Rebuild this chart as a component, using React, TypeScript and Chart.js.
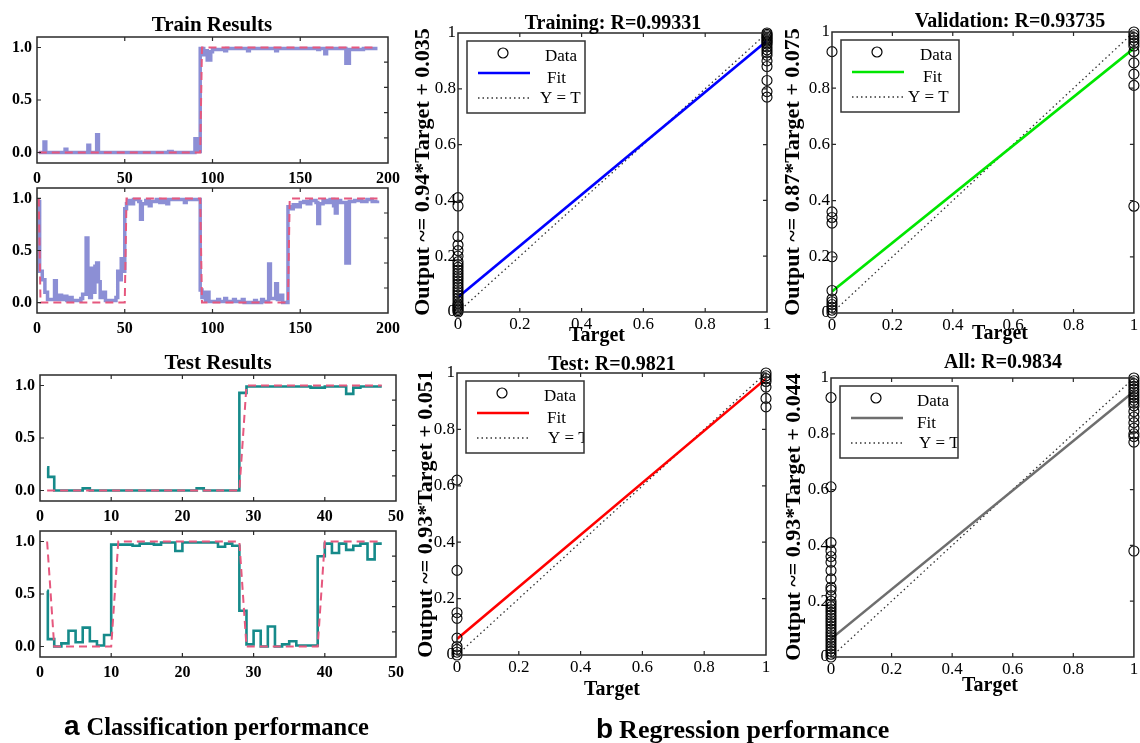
import React, { useEffect, useRef } from "react";
import { Chart, registerables } from "chart.js";

Chart.register(...registerables);

const W = 1140;
const H = 743;
const SERIF = "'Liberation Serif', 'Times New Roman', serif";
const SANS = "'Liberation Sans', Arial, sans-serif";
const AXIS = "#2a2a2a";
const PINK = "#e6587e";
const PERI = "#8c8fd5";
const TEAL = "#168a8a";

// ---------- Classification performance (sample index vs value) ----------
const trainTicksX = [0, 50, 100, 150, 200];
const testTicksX = [0, 10, 20, 30, 40, 50];
const clsTicksY = [0, 0.5, 1.0];
const clsRightTicks = [0.14, 0.38, 0.62, 0.86];

const trainTopOutX = [1, 4, 5, 16, 17, 29, 30, 34, 35, 75, 77, 90, 91, 93, 95, 96, 97, 99, 100, 107, 108, 120, 121, 136, 137, 160, 161, 164, 165, 176, 178, 186, 194];
const trainTopOutY = [0.0, 0.10, 0.0, 0.03, 0.0, 0.07, 0.0, 0.17, 0.0, 0.01, 0.0, 0.13, 0.01, 0.99, 0.93, 0.97, 0.88, 0.96, 0.98, 0.97, 0.99, 0.97, 0.99, 0.97, 0.99, 0.98, 0.99, 0.94, 0.99, 0.85, 0.98, 0.99, 0.99];
const trainTopTgtX = [1, 93, 94, 194];
const trainTopTgtY = [0, 0, 1, 1];

const trainBotOutX = [1, 1.5, 3, 4.5, 6, 10, 11, 13, 14, 16, 17, 19, 20, 25, 26, 28, 29, 30, 31, 32, 33, 34, 35, 36, 38, 39, 45, 46, 47, 48, 49, 50, 51, 52, 53, 55, 58, 59, 60, 62, 64, 65, 68, 70, 72, 74, 75, 84, 85, 93, 94, 95, 96, 97, 98, 103, 104, 107, 108, 112, 113, 117, 118, 124, 125, 128, 129, 132, 133, 136, 137, 138, 140, 143, 144, 146, 148, 150, 152, 154, 156, 159, 160, 161, 163, 165, 167, 169, 170, 171, 173, 176, 178, 181, 185, 188, 191, 194];
const trainBotOutY = [0.97, 0.30, 0.22, 0.10, 0.03, 0.21, 0.03, 0.07, 0.03, 0.06, 0.02, 0.05, 0.02, 0.04, 0.08, 0.62, 0.10, 0.05, 0.33, 0.10, 0.35, 0.38, 0.20, 0.05, 0.10, 0.02, 0.05, 0.30, 0.22, 0.42, 0.30, 0.90, 0.95, 0.98, 0.95, 0.99, 0.97, 0.80, 0.95, 0.98, 0.93, 0.97, 0.99, 0.96, 0.98, 0.95, 0.99, 0.96, 0.99, 0.12, 0.05, 0.10, 0.02, 0.10, 0.01, 0.03, 0.01, 0.04, 0.01, 0.03, 0.01, 0.03, 0.00, 0.02, 0.00, 0.03, 0.01, 0.37, 0.04, 0.18, 0.03, 0.07, 0.00, 0.92, 0.90, 0.94, 0.92, 0.96, 0.97, 0.95, 0.98, 0.96, 0.76, 0.95, 0.98, 0.96, 0.99, 0.93, 0.86, 0.98, 0.96, 0.38, 0.97, 0.98, 0.97, 0.99, 0.97, 0.98];
const trainBotTgtX = [1, 2, 50, 51, 93, 94, 143, 144, 194];
const trainBotTgtY = [1, 0, 0, 1, 1, 0, 0, 1, 1];

const testTopOutX = [1, 1.15, 2, 6, 7, 22, 23, 28, 29, 38, 40, 43, 44, 45, 48];
const testTopOutY = [0.22, 0.13, 0.0, 0.02, 0.0, 0.02, 0.0, 0.93, 0.99, 0.98, 0.99, 0.92, 0.98, 0.99, 0.99];
const testTopTgtX = [1, 28, 29, 48];
const testTopTgtY = [0, 0, 1, 1];

const testBotOutX = [1, 1.1, 2, 3, 4, 5, 6, 7, 8, 9, 10, 11, 13, 14, 16, 17, 19, 20, 25, 26, 27, 28, 29, 30, 31, 32, 33, 34, 35, 36, 39, 40, 41, 42, 43, 44, 45, 46, 47, 48];
const testBotOutY = [0.53, 0.07, 0.0, 0.03, 0.15, 0.04, 0.18, 0.05, 0.01, 0.11, 0.97, 0.97, 0.96, 0.98, 0.97, 0.99, 0.91, 0.99, 0.95, 0.98, 0.96, 0.34, 0.02, 0.15, 0.0, 0.19, 0.0, 0.02, 0.05, 0.01, 0.86, 0.98, 0.89, 0.98, 0.92, 0.96, 0.98, 0.83, 0.98, 0.98];
const testBotTgtX = [1, 2, 10, 11, 28, 29, 39, 40, 48];
const testBotTgtY = [1, 0, 0, 1, 1, 0, 0, 1, 1];

// ---------- Regression performance ----------
const regTicks = [0, 0.2, 0.4, 0.6, 0.8, 1];
const regInnerTicks = [0.2, 0.4, 0.6, 0.8];
const fitX = [0, 1];
const identityY = [0, 1];

const trainRegLow = [0.0, 0.005, 0.01, 0.015, 0.02, 0.025, 0.03, 0.04, 0.05, 0.06, 0.07, 0.08, 0.09, 0.10, 0.11, 0.12, 0.13, 0.14, 0.15, 0.16, 0.17, 0.18, 0.20, 0.22, 0.24, 0.27, 0.38, 0.41];
const trainRegHigh = [0.77, 0.79, 0.83, 0.88, 0.90, 0.92, 0.93, 0.94, 0.95, 0.96, 0.965, 0.97, 0.975, 0.98, 0.985, 0.99, 0.995, 1.0];
const trainFitY = [0.053, 0.972];

const valRegLow = [0.0, 0.01, 0.02, 0.03, 0.04, 0.05, 0.08, 0.20, 0.32, 0.34, 0.36, 0.93];
const valRegHigh = [0.38, 0.81, 0.85, 0.89, 0.93, 0.95, 0.96, 0.97, 0.98, 0.99, 1.0];
const valFitY = [0.077, 0.942];

const testRegLow = [0.0, 0.01, 0.02, 0.03, 0.06, 0.13, 0.15, 0.30, 0.62];
const testRegHigh = [0.88, 0.91, 0.95, 0.97, 0.98, 0.99, 1.0];
const testFitY = [0.057, 0.98];

const allRegLow = [0.00, 0.01, 0.02, 0.03, 0.04, 0.05, 0.06, 0.07, 0.08, 0.09, 0.10, 0.11, 0.12, 0.13, 0.14, 0.15, 0.16, 0.17, 0.18, 0.19, 0.20, 0.22, 0.24, 0.25, 0.28, 0.31, 0.34, 0.36, 0.38, 0.41, 0.61, 0.93];
const allRegHigh = [0.38, 0.77, 0.79, 0.80, 0.82, 0.84, 0.86, 0.88, 0.90, 0.91, 0.92, 0.93, 0.94, 0.95, 0.96, 0.97, 0.98, 0.99, 1.0];
const allFitY = [0.065, 0.952];

type Rect = { l: number; t: number; r: number; b: number };

const zip = (xs: number[], ys: number[]) => xs.map((x, i) => ({ x, y: ys[i] }));

const boxPlugin = {
  id: "matBox",
  afterDatasetsDraw(chart: any, _a: any, o: any) {
    const { ctx, chartArea: a, scales } = chart;
    const xs = scales.x;
    const ys = scales.y;
    ctx.save();
    ctx.strokeStyle = AXIS;
    ctx.lineWidth = 1.5;
    ctx.strokeRect(a.left, a.top, a.right - a.left, a.bottom - a.top);
    ctx.lineWidth = 1.2;
    const L = o.len || 4;
    ctx.beginPath();
    for (const v of o.xMarks) {
      const p = xs.getPixelForValue(v);
      ctx.moveTo(p, a.bottom);
      ctx.lineTo(p, a.bottom - L);
      ctx.moveTo(p, a.top);
      ctx.lineTo(p, a.top + L);
    }
    for (const v of o.yMarks) {
      const p = ys.getPixelForValue(v);
      ctx.moveTo(a.left, p);
      ctx.lineTo(a.left + L, p);
    }
    for (const v of o.rMarks) {
      const p = ys.getPixelForValue(v);
      ctx.moveTo(a.right, p);
      ctx.lineTo(a.right - L, p);
    }
    ctx.stroke();
    ctx.restore();
  },
};

const legendPlugin = {
  id: "regLegend",
  afterDatasetsDraw(chart: any, _a: any, o: any) {
    if (!o || !o.color) return;
    const { ctx, chartArea: a } = chart;
    const x = a.left + 9;
    const y = a.top + 8;
    const w = 118;
    const h = 72;
    ctx.save();
    ctx.fillStyle = "#fff";
    ctx.fillRect(x, y, w, h);
    ctx.beginPath();
    ctx.rect(x, y, w, h);
    ctx.clip();
    ctx.strokeStyle = "#000";
    ctx.lineWidth = 1.2;
    ctx.beginPath();
    ctx.arc(x + 36, y + 12, 5, 0, Math.PI * 2);
    ctx.stroke();
    ctx.strokeStyle = o.color;
    ctx.lineWidth = 2.5;
    ctx.beginPath();
    ctx.moveTo(x + 11, y + 32);
    ctx.lineTo(x + 63, y + 32);
    ctx.stroke();
    ctx.strokeStyle = "#333";
    ctx.lineWidth = 1.3;
    ctx.setLineDash([1.5, 3]);
    ctx.beginPath();
    ctx.moveTo(x + 11, y + 57);
    ctx.lineTo(x + 63, y + 57);
    ctx.stroke();
    ctx.setLineDash([]);
    ctx.fillStyle = "#000";
    ctx.font = `17px ${SERIF}`;
    ctx.textBaseline = "middle";
    ctx.fillText("Data", x + o.dataX, y + 16);
    ctx.fillText("Fit", x + o.fitX, y + 38);
    ctx.fillText("Y = T", x + o.ytX, y + 58);
    ctx.restore();
    ctx.save();
    ctx.strokeStyle = "#333";
    ctx.lineWidth = 1.5;
    ctx.strokeRect(x, y, w, h);
    ctx.restore();
  },
};

type SeriesPanel = {
  rect: Rect;
  xMax: number;
  xTicks: number[];
  outX: number[];
  outY: number[];
  tgtX: number[];
  tgtY: number[];
  color: string;
  lw: number;
};

function seriesConfig(p: SeriesPanel): any {
  const yW = 30;
  const xH = 30;
  const tickFont = { family: SERIF, size: 16, weight: "bold" as const };
  return {
    type: "line",
    data: {
      datasets: [
        {
          data: zip(p.tgtX, p.tgtY),
          borderColor: PINK,
          borderWidth: 2,
          borderDash: [8, 5],
          pointRadius: 0,
          fill: false,
          tension: 0,
          order: 0,
        },
        {
          data: zip(p.outX, p.outY),
          borderColor: p.color,
          borderWidth: p.lw,
          stepped: true,
          pointRadius: 0,
          fill: false,
          order: 1,
        },
      ],
    },
    options: {
      responsive: false,
      animation: false,
      devicePixelRatio: 1,
      events: [],
      layout: { padding: { left: p.rect.l - yW, top: p.rect.t, right: W - p.rect.r, bottom: H - p.rect.b - xH } },
      plugins: {
        legend: { display: false },
        tooltip: { enabled: false },
        matBox: { xMarks: p.xTicks.slice(1, -1), yMarks: clsTicksY, rMarks: clsRightTicks, len: 4 },
      },
      scales: {
        x: {
          type: "linear",
          min: 0,
          max: p.xMax,
          grid: { display: false, drawTicks: false },
          border: { display: false },
          afterBuildTicks: (s: any) => {
            s.ticks = p.xTicks.map((v) => ({ value: v }));
          },
          afterFit: (s: any) => {
            s.height = xH;
            s.paddingLeft = 0;
            s.paddingRight = 0;
          },
          ticks: { font: tickFont, color: "#000", padding: 6, maxRotation: 0, autoSkip: false, callback: (v: any) => String(v) },
        },
        y: {
          type: "linear",
          min: -0.1,
          max: 1.1,
          grid: { display: false, drawTicks: false },
          border: { display: false },
          afterBuildTicks: (s: any) => {
            s.ticks = clsTicksY.map((v) => ({ value: v }));
          },
          afterFit: (s: any) => {
            s.width = yW;
            s.paddingTop = 0;
            s.paddingBottom = 0;
          },
          ticks: { font: tickFont, color: "#000", padding: 5, autoSkip: false, callback: (v: any) => Number(v).toFixed(1) },
        },
      },
    },
    plugins: [boxPlugin],
  };
}

type RegPanel = {
  rect: Rect;
  low: number[];
  high: number[];
  fitY: number[];
  color: string;
  dataX: number;
  fitTextX: number;
  ytX: number;
};

function regConfig(p: RegPanel): any {
  const yW = 40;
  const xH = 30;
  const tickFont = { family: SERIF, size: 17 };
  const fmt = (v: any) => String(Number(Number(v).toFixed(1)));
  const points = [...p.low.map((y) => ({ x: 0, y })), ...p.high.map((y) => ({ x: 1, y }))];
  return {
    type: "scatter",
    data: {
      datasets: [
        {
          data: points,
          showLine: false,
          pointRadius: 5,
          pointBorderWidth: 1.1,
          pointBorderColor: "#000",
          pointBackgroundColor: "rgba(0,0,0,0)",
          clip: false,
          order: 0,
        },
        {
          data: zip(fitX, p.fitY),
          showLine: true,
          borderColor: p.color,
          borderWidth: 2.6,
          pointRadius: 0,
          order: 1,
        },
        {
          data: zip(fitX, identityY),
          showLine: true,
          borderColor: "#333",
          borderWidth: 1.3,
          borderDash: [1.5, 3],
          pointRadius: 0,
          order: 2,
        },
      ],
    },
    options: {
      responsive: false,
      animation: false,
      devicePixelRatio: 1,
      events: [],
      layout: { padding: { left: p.rect.l - yW, top: p.rect.t, right: W - p.rect.r, bottom: H - p.rect.b - xH } },
      plugins: {
        legend: { display: false },
        tooltip: { enabled: false },
        matBox: { xMarks: regInnerTicks, yMarks: regInnerTicks, rMarks: regInnerTicks, len: 4 },
        regLegend: { color: p.color, dataX: p.dataX, fitX: p.fitTextX, ytX: p.ytX },
      },
      scales: {
        x: {
          type: "linear",
          min: 0,
          max: 1,
          grid: { display: false, drawTicks: false },
          border: { display: false },
          afterBuildTicks: (s: any) => {
            s.ticks = regTicks.map((v) => ({ value: v }));
          },
          afterFit: (s: any) => {
            s.height = xH;
            s.paddingLeft = 0;
            s.paddingRight = 0;
          },
          ticks: { font: tickFont, color: "#000", padding: 2, maxRotation: 0, autoSkip: false, callback: fmt },
        },
        y: {
          type: "linear",
          min: 0,
          max: 1,
          grid: { display: false, drawTicks: false },
          border: { display: false },
          afterBuildTicks: (s: any) => {
            s.ticks = regTicks.map((v) => ({ value: v }));
          },
          afterFit: (s: any) => {
            s.width = yW;
            s.paddingTop = 0;
            s.paddingBottom = 0;
          },
          ticks: { font: tickFont, color: "#000", padding: 2, autoSkip: false, callback: fmt },
        },
      },
    },
    plugins: [boxPlugin, legendPlugin],
  };
}

const panels: any[] = [
  seriesConfig({ rect: { l: 37, t: 37, r: 388, b: 163 }, xMax: 200, xTicks: trainTicksX, outX: trainTopOutX, outY: trainTopOutY, tgtX: trainTopTgtX, tgtY: trainTopTgtY, color: PERI, lw: 3.5 }),
  seriesConfig({ rect: { l: 37, t: 188, r: 388, b: 313 }, xMax: 200, xTicks: trainTicksX, outX: trainBotOutX, outY: trainBotOutY, tgtX: trainBotTgtX, tgtY: trainBotTgtY, color: PERI, lw: 3.5 }),
  seriesConfig({ rect: { l: 40, t: 375, r: 396, b: 501 }, xMax: 50, xTicks: testTicksX, outX: testTopOutX, outY: testTopOutY, tgtX: testTopTgtX, tgtY: testTopTgtY, color: TEAL, lw: 2.6 }),
  seriesConfig({ rect: { l: 40, t: 531, r: 396, b: 657 }, xMax: 50, xTicks: testTicksX, outX: testBotOutX, outY: testBotOutY, tgtX: testBotTgtX, tgtY: testBotTgtY, color: TEAL, lw: 2.6 }),
  regConfig({ rect: { l: 458, t: 33, r: 767, b: 312 }, low: trainRegLow, high: trainRegHigh, fitY: trainFitY, color: "#0000ff", dataX: 78, fitTextX: 80, ytX: 73 }),
  regConfig({ rect: { l: 832, t: 32, r: 1139, b: 313 }, low: valRegLow, high: valRegHigh, fitY: valFitY, color: "#00e600", dataX: 79, fitTextX: 82, ytX: 67 }),
  regConfig({ rect: { l: 457, t: 373, r: 766, b: 655 }, low: testRegLow, high: testRegHigh, fitY: testFitY, color: "#ff0000", dataX: 78, fitTextX: 81, ytX: 82 }),
  regConfig({ rect: { l: 831, t: 378, r: 1139, b: 657 }, low: allRegLow, high: allRegHigh, fitY: allFitY, color: "#6e6e6e", dataX: 77, fitTextX: 77, ytX: 79 }),
];

type Label = { t: string; x: number; y: number; size: number; rot?: boolean };

const labels: Label[] = [
  { t: "Train Results", x: 212, y: 24, size: 21 },
  { t: "Test Results", x: 218, y: 362, size: 21 },
  { t: "Training: R=0.99331", x: 613, y: 22, size: 20 },
  { t: "Validation: R=0.93735", x: 1010, y: 20, size: 20 },
  { t: "Test: R=0.9821", x: 612, y: 363, size: 20 },
  { t: "All: R=0.9834", x: 1003, y: 361, size: 20 },
  { t: "Target", x: 597, y: 334, size: 20 },
  { t: "Target", x: 1000, y: 332, size: 20 },
  { t: "Target", x: 612, y: 688, size: 20 },
  { t: "Target", x: 990, y: 684, size: 20 },
  { t: "Output ~= 0.94*Target + 0.035", x: 422, y: 172, size: 22, rot: true },
  { t: "Output ~= 0.87*Target + 0.075", x: 792, y: 172, size: 22, rot: true },
  { t: "Output ~= 0.93*Target + 0.051", x: 425, y: 514, size: 22, rot: true },
  { t: "Output ~= 0.93*Target + 0.044", x: 793, y: 517, size: 22, rot: true },
];

function ChartCanvas({ config }: { config: any }) {
  const ref = useRef<HTMLCanvasElement>(null);
  useEffect(() => {
    const chart = new Chart(ref.current as HTMLCanvasElement, config);
    return () => chart.destroy();
  }, [config]);
  return (
    <canvas
      ref={ref}
      width={W}
      height={H}
      style={{ position: "absolute", left: 0, top: 0, width: W, height: H }}
    />
  );
}

export default function App() {
  return (
    <div style={{ position: "absolute", left: 0, top: 0, width: W, height: H, background: "#fff", overflow: "hidden" }}>
      {panels.map((c, i) => (
        <ChartCanvas key={i} config={c} />
      ))}
      {labels.map((l, i) => (
        <div
          key={"l" + i}
          style={{
            position: "absolute",
            left: l.x,
            top: l.y,
            transform: `translate(-50%, -50%)${l.rot ? " rotate(-90deg)" : ""}`,
            fontFamily: SERIF,
            fontWeight: "bold",
            fontSize: l.size,
            lineHeight: 1,
            whiteSpace: "nowrap",
            color: "#000",
          }}
        >
          {l.t}
        </div>
      ))}
      <div style={{ position: "absolute", left: 64, top: 712, whiteSpace: "nowrap", lineHeight: 1, color: "#000" }}>
        <span style={{ fontFamily: SANS, fontWeight: "bold", fontSize: 28 }}>a</span>
        <span style={{ fontFamily: SERIF, fontWeight: "bold", fontSize: 24.5, marginLeft: 7 }}>Classification performance</span>
      </div>
      <div style={{ position: "absolute", left: 596, top: 715, whiteSpace: "nowrap", lineHeight: 1, color: "#000" }}>
        <span style={{ fontFamily: SANS, fontWeight: "bold", fontSize: 28 }}>b</span>
        <span style={{ fontFamily: SERIF, fontWeight: "bold", fontSize: 26, marginLeft: 6 }}>Regression performance</span>
      </div>
    </div>
  );
}
